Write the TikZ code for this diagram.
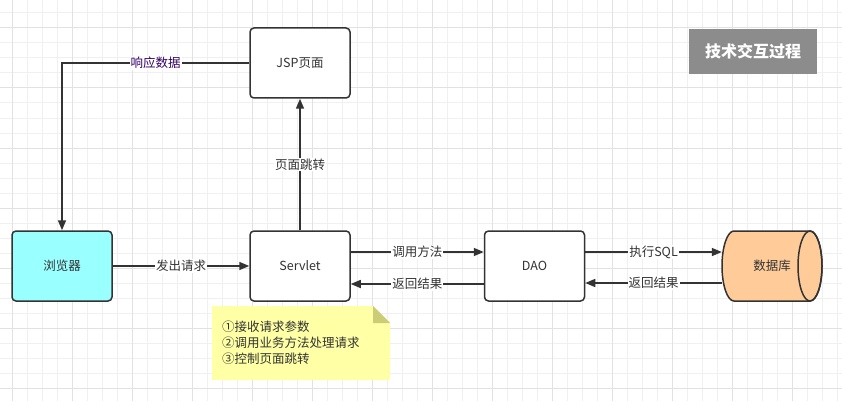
\documentclass[tikz,border=0pt]{standalone}
\usepackage{fontspec}
\setmainfont{Noto Sans CJK SC}
\usetikzlibrary{arrows.meta}
\definecolor{linegray}{HTML}{333333}
\definecolor{gridminor}{HTML}{F0F0F0}
\definecolor{gridmajor}{HTML}{E2E2E2}
\definecolor{browserfill}{HTML}{99FFFF}
\definecolor{dbfill}{HTML}{FFCC99}
\definecolor{titlefill}{HTML}{8C8C8C}
\definecolor{notefill}{HTML}{FFFFA6}
\definecolor{notefold}{HTML}{CCCC77}
\definecolor{resptext}{HTML}{330066}
\tikzset{
  font={\fontsize{12.5pt}{16pt}\selectfont},
  box/.style={draw=linegray, line width=1.5pt, rounded corners=4pt, fill=white,
    minimum width=100pt, minimum height=70pt, text=linegray},
  conn/.style={draw=linegray, line width=1.5pt, -{Triangle[length=10pt,width=8pt]}},
  lbl/.style={fill=white, text=linegray, inner sep=1pt}}

\begin{document}
\begin{tikzpicture}[x=1pt,y=1pt]
\useasboundingbox (0,0) rectangle (842,-401);
\fill[white] (0,0) rectangle (842,-401);
\foreach \x in {12,27,...,842} \draw[gridminor, line width=1pt] (\x,0) -- (\x,-401);
\foreach \y in {13,28,...,401} \draw[gridminor, line width=1pt] (0,-\y) -- (842,-\y);
\foreach \x in {12,72,...,842} \draw[gridmajor, line width=1pt] (\x,0) -- (\x,-401);
\foreach \y in {28,88,...,401} \draw[gridmajor, line width=1pt] (0,-\y) -- (842,-\y);

\node[box, fill=browserfill] (browser) at (62,-266) {浏览器};
\node[box] (jsp) at (300,-63) {JSP页面};
\node[box] (servlet) at (300,-266) {Servlet};
\node[box] (dao) at (534.5,-266) {DAO};

\filldraw[draw=linegray, fill=dbfill, line width=1.5pt] (810,-231) -- (734,-231)
  arc[start angle=90, end angle=270, x radius=12, y radius=35] -- (810,-301)
  arc[start angle=270, end angle=450, x radius=12, y radius=35] -- cycle;
\draw[linegray, line width=1.5pt] (810,-266) ellipse[x radius=12, y radius=35];
\node[minimum width=100pt, minimum height=70pt, text=linegray] (db) at (772,-266) {数据库};

\node[fill=titlefill, text=white, minimum width=128pt, minimum height=45pt,
  font={\fontsize{16pt}{18pt}\selectfont\bfseries}] (title) at (753,-51.5) {技术交互过程};

\fill[notefill] (212,-306) -- (373,-306) -- (390,-323) -- (390,-380) -- (212,-380) -- cycle;
\fill[notefold] (373,-306) -- (390,-323) -- (373,-323) -- cycle;
\node[text width=168pt, align=left, inner sep=0pt, text=linegray] (note) at (306,-343)
  {①接收请求参数\\②调用业务方法处理请求\\③控制页面跳转};

\draw[conn] (jsp.west) -| (browser.north) node[lbl, pos=0.25, text=resptext] {响应数据};
\draw[conn] (servlet.north) -- (jsp.south) node[lbl, midway] {页面跳转};
\draw[conn] (browser.east) -- (servlet.west) node[lbl, midway] {发出请求};
\draw[conn] ([yshift=14pt]servlet.east) -- ([yshift=14pt]dao.west) node[lbl, midway] {调用方法};
\draw[conn] ([yshift=-18pt]dao.west) -- ([yshift=-18pt]servlet.east) node[lbl, midway] {返回结果};
\draw[conn] ([yshift=14pt]dao.east) -- ([yshift=14pt]db.west) node[lbl, midway] {执行SQL};
\draw[conn] ([yshift=-17pt]db.west) -- ([yshift=-17pt]dao.east) node[lbl, midway] {返回结果};
\end{tikzpicture}
\end{document}
